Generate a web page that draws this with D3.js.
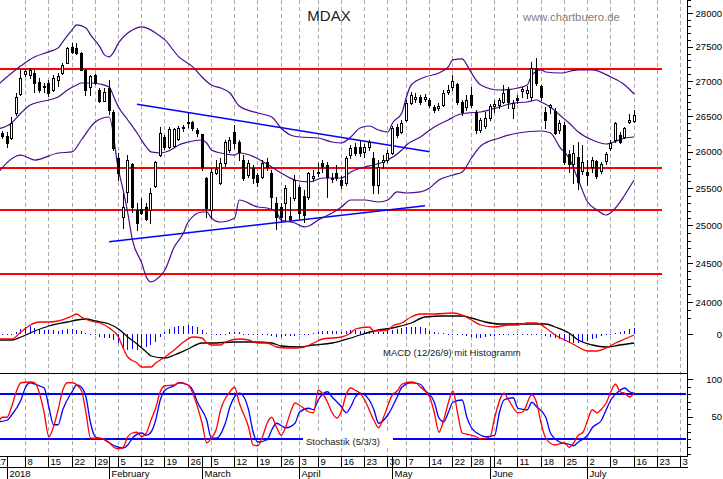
<!DOCTYPE html>
<html>
<head>
<meta charset="utf-8">
<script src="https://cdn.jsdelivr.net/npm/d3@7"></script>
<style>
body { margin: 0; background: #fff; }
svg { display: block; font-family: Arial, "Liberation Sans", sans-serif; }
</style>
</head>
<body>
<script>
var w = 723;
var h = 479;

// trading day index: 0 = 2 Jan 2018, negative = late Dec 2017
// [day, open, high, low, close]
const ohlc = [
[-2,26290,26335,26210,26235],[-1,26265,26290,26195,26220],[0,26220,26280,26070,26125],
[1,26195,26490,26180,26405],[2,26545,26830,26517,26773],[3,26816,27162,26802,27046],
[4,27104,27176,27075,27147],[5,27090,27191,27046,27162],[6,27118,27162,26844,26974],
[7,26988,27046,26844,26873],[8,26916,26974,26844,26930],[9,26974,27017,26787,26830],
[10,26873,27090,26859,27046],[11,27017,27118,26930,27075],[12,27118,27266,27104,27237],
[13,27266,27499,27266,27484],[14,27499,27557,27411,27426],[15,27484,27557,27397,27411],
[16,27411,27426,27162,27162],[17,27162,27176,26802,26873],[18,26916,27090,26802,27075],
[19,27090,27104,26959,26974],[20,26873,26902,26702,26716],[21,26716,26902,26716,26844],
[22,26902,27017,26531,26588],[23,26560,26588,26027,26055],[24,25916,25985,25614,25710],
[25,25113,25437,24966,25247],[26,25451,25957,25315,25888],[27,25833,25847,25180,25247],
[28,25207,25302,24940,25033],[29,25220,25369,25154,25167],[30,25247,25302,25073,25086],
[31,25207,25505,25033,25437],[32,25532,25874,25519,25861],[33,25957,26348,25943,26264],
[34,26208,26236,26041,26068],[35,26068,26348,26055,26320],[36,26082,26334,26068,26320],
[37,26180,26362,26166,26334],[38,26334,26376,26292,26348],[39,26405,26545,26348,26419],
[40,26419,26433,26306,26334],[41,26306,26334,26222,26264],[42,26250,26250,25751,25792],
[43,25641,25655,25113,25234],[44,25207,25778,25113,25723],[45,25710,25888,25696,25764],
[46,25573,25916,25559,25847],[47,25847,26166,25806,26138],[48,26027,26208,26000,26166],
[49,26278,26376,26055,26124],[50,26138,26166,25888,26000],[51,25888,25957,25614,25641],
[52,25682,25888,25655,25847],[53,25778,25820,25573,25641],[54,25682,25710,25532,25587],
[55,25655,25888,25641,25847],[56,25861,25916,25751,25792],[57,25710,25751,25234,25383],
[58,25302,25383,24953,25113],[59,25247,25302,25046,25113],[60,25302,25546,25073,25505],
[61,25127,25383,25060,25086],[62,25369,25682,25342,25614],[63,25519,25546,25100,25167],
[64,25397,25478,25046,25140],[65,25383,25723,25356,25710],[66,25641,25751,25601,25669],
[67,25710,25847,25669,25723],[68,25847,25888,25723,25806],[69,25820,25861,25383,25655],
[70,25627,25710,25587,25641],[71,25710,25820,25614,25641],[72,25614,25669,25505,25546],
[73,25573,25943,25546,25916],[74,25957,26096,25916,26055],[75,26068,26124,25957,25985],
[76,26068,26166,25943,25985],[77,26000,26110,25929,26068],[78,26068,26166,26027,26138],
[79,25916,26000,25437,25546],[80,25546,25888,25437,25792],[81,25861,25957,25778,25888],
[82,25888,26027,25861,25985],[83,25985,26362,25971,26334],[84,26348,26390,26208,26236],
[85,26278,26447,26264,26405],[86,26447,26730,26433,26687],[87,26687,26844,26673,26802],
[88,26744,26830,26702,26773],[89,26773,26802,26673,26702],[90,26744,26816,26716,26773],
[91,26730,26759,26631,26659],[92,26631,26659,26560,26588],[93,26617,26687,26588,26645],
[94,26659,26873,26645,26830],[95,26844,26945,26816,26873],[96,26916,27090,26873,27003],
[97,26959,26974,26673,26702],[98,26702,26730,26517,26560],[99,26631,26802,26588,26730],
[100,26802,26916,26631,26659],[101,26560,26588,26264,26306],[102,26306,26475,26278,26447],
[103,26362,26560,26334,26475],[104,26475,26673,26447,26645],[105,26645,26730,26560,26673],
[106,26659,26759,26617,26730],[107,26702,26945,26687,26830],[108,26887,26916,26617,26702],
[109,26617,26730,26475,26687],[110,26759,26802,26687,26730],[111,26859,26916,26773,26887],
[112,26830,26930,26759,26873],[113,26773,27280,26730,27191],[114,27191,27338,26945,26974],
[115,26930,26945,26730,26773],[116,26560,26631,26334,26447],[117,26631,26673,26545,26659],
[118,26574,26617,26250,26264],[119,26306,26447,26264,26405],[120,26376,26419,25833,25861],
[121,25971,26027,25723,25833],[122,25833,26096,25573,25985],[123,25929,26138,25491,25587],
[124,25737,26096,25696,25861],[125,25723,25888,25546,25682],[126,25792,25929,25723,25888],
[127,25874,25888,25641,25669],[128,25737,25861,25710,25833],[129,25874,26000,25833,25971],
[130,26055,26166,26027,26124],[131,26166,26419,26138,26405],[132,26236,26278,26124,26138],
[133,26208,26348,26194,26334],[134,26419,26531,26405,26447],[135,26433,26588,26419,26517]
];

// Bollinger bands [day, value]
const upperBand = [[-2,26945],[3,27222],[6,27353],[9,27426],[11,27484],[12,27572],[14,27748],[15,27822],[17,27778],[18,27674],[20,27499],[21,27382],[22,27353],[23,27426],[24,27557],[26,27704],[27,27748],[29,27793],[30,27778],[32,27704],[34,27601],[37,27353],[40,27207],[42,27060],[44,26945],[46,26902],[48,26830],[50,26645],[54,26545],[57,26489],[59,26334],[61,26236],[63,26208],[67,26194],[70,26138],[72,26124],[74,26208],[76,26334],[78,26362],[80,26306],[82,26278],[83,26405],[85,26545],[86,26773],[87,26945],[90,27060],[93,27118],[95,27207],[96,27309],[98,27324],[99,27237],[100,27118],[102,26945],[106,26873],[110,26902],[112,26945],[113,27090],[115,27162],[116,27133],[119,27118],[123,27162],[126,27162],[130,27060],[133,26945],[135,26816]];
const middleBand = [[-2,26320],[1,26405],[3,26545],[5,26659],[7,26702],[9,26730],[11,26773],[13,26873],[15,26945],[16,26974],[18,26974],[20,26959],[22,26916],[23,26773],[24,26631],[26,26447],[28,26264],[30,26068],[31,26000],[33,25985],[36,26055],[37,26096],[39,26138],[42,26166],[43,26124],[44,26027],[46,25985],[49,25957],[50,25985],[57,25792],[59,25710],[62,25614],[65,25587],[68,25641],[72,25641],[74,25723],[77,25792],[79,25820],[81,25861],[85,26027],[86,26096],[89,26208],[92,26348],[95,26447],[97,26517],[99,26545],[102,26560],[106,26631],[109,26687],[112,26702],[114,26730],[115,26702],[117,26631],[119,26517],[121,26405],[123,26278],[126,26166],[129,26110],[130,26124],[133,26194],[135,26208]];
const lowerBand = [[-2,25710],[3,25957],[6,25888],[11,25985],[14,26000],[16,26166],[19,26419],[22,26489],[24,25751],[25,25478],[26,25167],[27,24807],[29,24505],[30,24323],[31,24258],[32,24284],[34,24414],[36,24714],[38,24900],[39,25046],[42,25180],[43,25180],[44,25100],[46,25046],[49,25100],[50,25342],[54,25247],[56,25234],[58,25180],[59,25073],[62,25033],[64,24980],[65,24993],[67,25073],[70,25167],[72,25247],[74,25342],[77,25342],[80,25315],[82,25342],[84,25451],[86,25437],[89,25451],[91,25505],[93,25614],[96,25682],[98,25723],[100,25916],[102,26082],[106,26194],[110,26264],[115,26292],[117,26264],[119,26068],[121,25916],[123,25614],[125,25315],[127,25207],[129,25140],[131,25234],[133,25410],[135,25614]];

// support / resistance levels and trend lines
const levels = [27172, 25774, 25203, 24357];
const levelEnd = 141;
const trendLines = [[28, 26669, 91, 26003], [22, 24784, 90, 25265]];

// MACD (12/26/9)
const macdLine = [[-2,-50],[1,-50],[3,20],[5,90],[7,120],[9,120],[11,130],[14,180],[15,200],[16,170],[18,130],[20,110],[22,60],[24,-30],[25,-140],[26,-230],[28,-290],[29,-330],[31,-330],[32,-290],[34,-230],[36,-160],[38,-80],[40,-30],[42,-40],[43,-90],[44,-110],[46,-110],[47,-80],[50,-50],[52,-60],[54,-90],[56,-90],[58,-130],[60,-140],[62,-140],[64,-130],[66,-90],[68,-50],[70,-40],[72,-30],[74,10],[75,50],[78,70],[79,30],[82,40],[83,80],[85,110],[87,170],[89,200],[92,200],[96,210],[98,190],[100,140],[102,90],[105,70],[108,90],[110,90],[112,110],[114,110],[116,60],[118,-10],[121,-80],[123,-130],[125,-170],[127,-170],[129,-140],[131,-90],[133,-50],[135,-10]];
const signalLine = [[-2,-60],[1,-60],[3,-30],[6,30],[9,80],[13,120],[15,140],[17,150],[19,130],[22,100],[24,50],[26,-30],[28,-100],[30,-180],[31,-220],[34,-240],[36,-210],[39,-150],[42,-90],[44,-90],[49,-80],[53,-80],[57,-90],[59,-120],[63,-130],[66,-110],[70,-90],[74,-40],[76,-10],[80,40],[83,60],[87,110],[90,170],[94,180],[98,180],[100,160],[103,120],[106,100],[112,100],[116,100],[118,70],[121,10],[123,-60],[126,-110],[129,-130],[132,-110],[135,-90]];
// histogram, day -2 .. 135
const macdHist = [0,0,0,0,20,50,70,80,60,50,40,40,40,30,40,50,50,40,30,10,0,0,-30,-40,-40,-60,-90,-150,-160,-150,-160,-140,-130,-110,-80,-30,20,50,70,80,80,90,80,70,40,10,0,0,0,0,20,20,20,0,0,0,0,0,0,-20,-30,-30,-20,-20,-20,-10,-10,0,10,20,30,30,30,30,20,30,40,40,30,30,30,30,20,20,30,40,50,60,70,70,70,70,60,30,20,10,10,0,0,-10,-10,-20,-30,-40,-40,-30,-20,-20,-10,-10,0,0,0,0,0,0,0,-10,-20,-30,-40,-50,-70,-90,-90,-90,-80,-70,-50,-40,-20,-10,0,10,20,30,50,60];

// Stochastik (5/3/3)
const stochK = [[-2,41],[-1,49],[0,49],[1,63],[2,83],[3,95],[5,96],[6,95],[7,81],[8,55],[9,23],[10,36],[11,59],[12,85],[13,95],[14,95],[16,85],[17,55],[18,21],[19,21],[20,21],[22,15],[23,9],[24,7],[25,9],[26,23],[27,28],[28,29],[29,23],[30,28],[31,45],[32,61],[33,83],[34,91],[36,92],[37,95],[39,92],[40,81],[41,63],[42,41],[43,15],[44,21],[45,32],[46,59],[48,83],[49,89],[50,68],[52,36],[53,12],[54,11],[55,23],[56,41],[57,49],[58,36],[59,25],[60,36],[61,55],[62,68],[63,65],[65,56],[66,55],[67,85],[68,80],[69,69],[70,55],[71,48],[72,57],[73,79],[74,88],[75,85],[76,81],[77,72],[79,45],[80,35],[81,48],[83,79],[84,84],[85,93],[87,96],[88,95],[89,89],[91,76],[92,55],[93,29],[94,45],[95,68],[96,84],[97,55],[98,28],[100,25],[101,23],[102,20],[104,23],[105,49],[107,81],[108,72],[110,55],[111,56],[113,79],[114,69],[115,41],[116,21],[118,12],[120,15],[121,9],[122,15],[123,25],[124,29],[125,45],[126,59],[127,55],[128,60],[129,68],[130,83],[131,93],[132,83],[133,81],[134,76],[135,81]];
const stochD = [[-2,43],[0,45],[1,52],[3,72],[4,89],[5,95],[6,93],[8,88],[9,63],[10,39],[11,39],[12,59],[14,83],[15,92],[16,89],[17,76],[18,41],[19,23],[21,19],[22,15],[24,9],[25,8],[26,12],[27,21],[29,28],[30,25],[31,29],[32,45],[33,72],[34,85],[36,91],[37,95],[39,92],[40,85],[41,69],[43,45],[44,21],[45,21],[47,41],[48,63],[50,81],[51,76],[52,59],[53,29],[54,16],[56,19],[57,32],[58,41],[60,35],[62,41],[63,56],[65,61],[66,59],[67,72],[69,83],[70,76],[72,63],[73,55],[74,63],[75,76],[76,81],[77,79],[79,59],[80,41],[82,52],[84,76],[85,89],[87,95],[89,93],[90,85],[92,69],[93,48],[94,43],[95,55],[96,69],[98,72],[99,49],[100,35],[102,25],[103,23],[105,25],[106,55],[107,72],[109,75],[110,61],[112,59],[113,69],[114,63],[116,49],[117,28],[119,16],[121,13],[122,11],[123,16],[125,25],[126,35],[128,45],[129,59],[130,72],[132,85],[133,88],[134,83],[135,81]];
const stochLevels = [80, 20];

// x axis: week labels (first trading day of week) and months
const weekLabels = ["27","8","15","22","29","5","12","19","26","5","12","19","26","3","9","16","23","30","7","14","22","28","4","11","18","25","2","9","16","23","30"];
const weekDays = [-3,4,9,14,19,24,29,34,39,44,49,54,59,63,67,72,77,82,86,91,96,100,105,110,115,120,125,130,135,140,145];
const monthLabels = ["2018","February","March","April","May","June","July"];
const monthDays = [0,22,42,63,83,104,125];

const priceMinor = d3.range(23800, 28201, 100);
const priceMajor = d3.range(24000, 28001, 500);

// scales
const axisX = 687.5;
const xScale = d3.scaleLinear().domain([0, 145]).range([7, 680.5]);
const yPrice = d3.scaleLog().domain([24000, 28000]).range([302, 13]);
const yMacd = d3.scaleLinear().domain([-100, 100]).range([344, 324]);
const yStoch = d3.scaleLinear().domain([0, 100]).range([454, 379]);
const px = d => Math.floor(xScale(d));

const svg = d3.select("body").append("svg")
    .attr("width", w)
    .attr("height", h);

svg.append("rect").attr("width", w).attr("height", h).attr("fill", "#fff");

svg.append("clipPath").attr("id", "plotclip")
    .append("rect").attr("x", 0).attr("y", 0).attr("width", 687).attr("height", 456);

const plot = svg.append("g").attr("clip-path", "url(#plotclip)");

// dashed week grid
plot.selectAll("line.grid")
    .data(weekDays.filter(d => d >= 4))
    .join("line")
    .attr("class", "grid")
    .attr("x1", d => px(d) + 0.5)
    .attr("x2", d => px(d) + 0.5)
    .attr("y1", 0)
    .attr("y2", 456)
    .attr("stroke", "#ababab")
    .attr("stroke-dasharray", "4,3")
    .attr("shape-rendering", "crispEdges");

// title + source
svg.append("text").attr("x", 329).attr("y", 21).attr("text-anchor", "middle")
    .attr("font-size", 15).attr("fill", "#222").text("MDAX");
svg.append("text").attr("x", 523).attr("y", 21)
    .attr("font-size", 11.3).attr("fill", "#808080").text("www.chartbuero.de");

// red levels
plot.selectAll("line.level")
    .data(levels)
    .join("line")
    .attr("x1", 0)
    .attr("x2", xScale(levelEnd))
    .attr("y1", d => Math.round(yPrice(d)))
    .attr("y2", d => Math.round(yPrice(d)))
    .attr("stroke", "#ff0000")
    .attr("stroke-width", 2)
    .attr("shape-rendering", "crispEdges");

// trend lines
plot.selectAll("line.trend")
    .data(trendLines)
    .join("line")
    .attr("x1", d => xScale(d[0]))
    .attr("y1", d => yPrice(d[1]))
    .attr("x2", d => xScale(d[2]))
    .attr("y2", d => yPrice(d[3]))
    .attr("stroke", "#0000ff")
    .attr("stroke-width", 1.5);

// bollinger bands
const bandLine = d3.line()
    .x(d => xScale(d[0]))
    .y(d => yPrice(d[1]))
    .curve(d3.curveMonotoneX);

[upperBand, middleBand, lowerBand].forEach(b => {
    plot.append("path")
        .datum(b)
        .attr("d", bandLine)
        .attr("fill", "none")
        .attr("stroke", "#4a0a8c")
        .attr("stroke-width", 1.2);
});

// candles
const candles = plot.append("g");
candles.selectAll("line")
    .data(ohlc)
    .join("line")
    .attr("x1", d => px(d[0]) + 0.5)
    .attr("x2", d => px(d[0]) + 0.5)
    .attr("y1", d => Math.round(yPrice(d[2])))
    .attr("y2", d => Math.round(yPrice(d[3])) + 1)
    .attr("stroke", "#000")
    .attr("shape-rendering", "crispEdges");

candles.selectAll("rect")
    .data(ohlc)
    .join("rect")
    .attr("x", d => px(d[0]) - 0.5)
    .attr("width", 2)
    .attr("y", d => Math.round(yPrice(Math.max(d[1], d[4]))) + 0.5)
    .attr("height", d => Math.max(0, Math.round(yPrice(Math.min(d[1], d[4]))) - Math.round(yPrice(Math.max(d[1], d[4])))))
    .attr("fill", d => d[4] >= d[1] ? "#fff" : "#000")
    .attr("stroke", "#000")
    .attr("stroke-width", 1);

// MACD histogram
const histDays = macdHist.map((v, i) => [i - 2, v]);
plot.selectAll("rect.hist")
    .data(histDays)
    .join("rect")
    .attr("class", "hist")
    .attr("x", d => px(d[0]))
    .attr("width", 1)
    .attr("y", d => d[1] >= 0 ? yMacd(d[1]) : yMacd(0))
    .attr("height", d => Math.max(1, Math.abs(yMacd(d[1]) - yMacd(0))))
    .attr("fill", "#0000ff")
    .attr("shape-rendering", "crispEdges");

const indLine = (ys) => d3.line()
    .x(d => xScale(d[0]))
    .y(d => ys(d[1]))
    .curve(d3.curveMonotoneX);

plot.append("path").datum(signalLine).attr("d", indLine(yMacd))
    .attr("fill", "none").attr("stroke", "#000").attr("stroke-width", 1.3);
plot.append("path").datum(macdLine).attr("d", indLine(yMacd))
    .attr("fill", "none").attr("stroke", "#ff0000").attr("stroke-width", 1.3);

svg.append("text").attr("x", 383).attr("y", 355.5)
    .attr("font-size", 9.5).attr("fill", "#222").text("MACD (12/26/9) mit Histogramm");

// stochastic panel
svg.append("line").attr("x1", 0).attr("x2", axisX).attr("y1", 373.5).attr("y2", 373.5)
    .attr("stroke", "#000").attr("shape-rendering", "crispEdges");

plot.selectAll("line.slevel")
    .data(stochLevels)
    .join("line")
    .attr("x1", 0)
    .attr("x2", 686)
    .attr("y1", d => Math.round(yStoch(d)))
    .attr("y2", d => Math.round(yStoch(d)))
    .attr("stroke", "#0000ff")
    .attr("stroke-width", 2)
    .attr("shape-rendering", "crispEdges");

svg.append("rect").attr("x", 303).attr("y", 434).attr("width", 90).attr("height", 11).attr("fill", "#fff");
svg.append("text").attr("x", 306).attr("y", 444.5)
    .attr("font-size", 9.5).attr("fill", "#222").text("Stochastik (5/3/3)");

plot.append("path").datum(stochD).attr("d", indLine(yStoch))
    .attr("fill", "none").attr("stroke", "#0000ff").attr("stroke-width", 1.3);
plot.append("path").datum(stochK).attr("d", indLine(yStoch))
    .attr("fill", "none").attr("stroke", "#ff0000").attr("stroke-width", 1.3);

// right axis
svg.append("line").attr("x1", axisX).attr("x2", axisX).attr("y1", 0).attr("y2", 456)
    .attr("stroke", "#000").attr("shape-rendering", "crispEdges");

const rightAxis = (scale, vals, size, fmt) => {
    const g = svg.append("g")
        .attr("transform", `translate(${axisX},0)`)
        .call(d3.axisRight(scale).tickValues(vals).tickSize(size).tickFormat(fmt));
    g.select(".domain").remove();
    g.selectAll("line").attr("shape-rendering", "crispEdges");
    g.selectAll("text")
        .attr("text-anchor", "end")
        .attr("x", 722 - axisX)
        .attr("font-size", 9.5)
        .attr("font-family", "Arial, 'Liberation Sans', sans-serif")
        .attr("fill", "#000");
    return g;
};

rightAxis(yPrice, priceMinor, 3, "");
rightAxis(yPrice, priceMajor, 5, d3.format("d"));
rightAxis(yMacd, [0], 5, d3.format("d"));
rightAxis(yStoch, d3.range(0, 101, 10), 3, "");
rightAxis(yStoch, [50, 100], 5, d3.format("d"));

// date axis
svg.append("clipPath").attr("id", "dateclip")
    .append("rect").attr("x", 0).attr("y", 455).attr("width", 688).attr("height", 24);
const dateG = svg.append("g").attr("clip-path", "url(#dateclip)");

dateG.append("line").attr("x1", 0).attr("x2", axisX).attr("y1", 456.5).attr("y2", 456.5)
    .attr("stroke", "#000").attr("shape-rendering", "crispEdges");
dateG.append("line").attr("x1", 0).attr("x2", axisX).attr("y1", 467.5).attr("y2", 467.5)
    .attr("stroke", "#000").attr("shape-rendering", "crispEdges");

const weekAxis = dateG.append("g")
    .attr("transform", "translate(0.5,456)")
    .call(d3.axisBottom(xScale).tickValues(weekDays).tickSize(12).tickPadding(-10)
        .tickFormat((d, i) => weekLabels[i]));
weekAxis.select(".domain").remove();
weekAxis.selectAll(".tick").attr("transform", d => `translate(${px(d)},0)`);
weekAxis.selectAll("line").attr("stroke", "#000").attr("shape-rendering", "crispEdges");
weekAxis.selectAll("text").attr("text-anchor", "start").attr("x", 2)
    .attr("font-size", 9.5).attr("font-family", "Arial, 'Liberation Sans', sans-serif").attr("fill", "#000");

const monthAxis = dateG.append("g")
    .attr("transform", "translate(0.5,456)")
    .call(d3.axisBottom(xScale).tickValues(monthDays).tickSize(23).tickPadding(-9)
        .tickFormat((d, i) => monthLabels[i]));
monthAxis.select(".domain").remove();
monthAxis.selectAll(".tick").attr("transform", d => `translate(${px(d)},0)`);
monthAxis.selectAll("line").attr("stroke", "#000").attr("shape-rendering", "crispEdges");
monthAxis.selectAll("text").attr("text-anchor", "start").attr("x", 2)
    .attr("font-size", 9.5).attr("font-family", "Arial, 'Liberation Sans', sans-serif").attr("fill", "#000");
</script>
</body>
</html>
